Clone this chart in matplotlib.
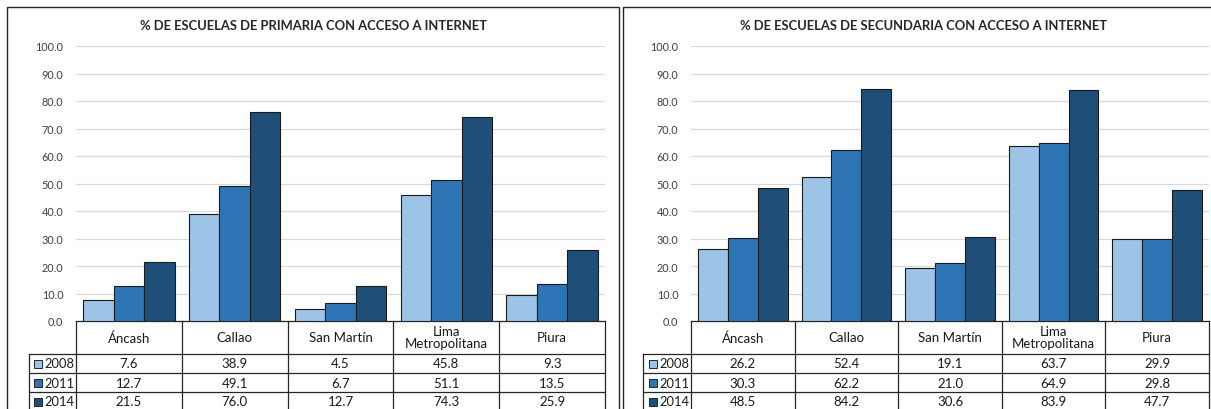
import matplotlib
matplotlib.use("Agg")
import matplotlib.pyplot as plt
from matplotlib.patches import Rectangle
import matplotlib.transforms as mtrans

plt.rcParams['font.family'] = ['Lato', 'DejaVu Sans']

categories = ['Áncash', 'Callao', 'San Martín', 'Lima\nMetropolitana', 'Piura']
years = ['2008', '2011', '2014']
prim_2008 = [7.6, 38.9, 4.5, 45.8, 9.3]
prim_2011 = [12.7, 49.1, 6.7, 51.1, 13.5]
prim_2014 = [21.5, 76.0, 12.7, 74.3, 25.9]
sec_2008 = [26.2, 52.4, 19.1, 63.7, 29.9]
sec_2011 = [30.3, 62.2, 21.0, 64.9, 29.8]
sec_2014 = [48.5, 84.2, 30.6, 83.9, 47.7]
yticks = [0, 10, 20, 30, 40, 50, 60, 70, 80, 90, 100]
titles = ['% DE ESCUELAS DE PRIMARIA CON ACCESO A INTERNET',
          '% DE ESCUELAS DE SECUNDARIA CON ACCESO A INTERNET']

colors = ['#9DC3E6', '#2E75B6', '#1F4E79']
W, H = 1211, 410
fig = plt.figure(figsize=(W / 100, H / 100), dpi=100)


def px_rect(x0, x1, ytop, ybot):
    return [x0 / W, 1 - ybot / H, (x1 - x0) / W, (ybot - ytop) / H]


def panel(series, title, frame, axbox, title_x):
    fx0, fx1 = frame
    fig.add_artist(Rectangle((fx0 / W, -0.05), (fx1 - fx0) / W, 1.05 - 8 / H,
                             transform=fig.transFigure, fill=False,
                             edgecolor='#262626', linewidth=1.0))
    fig.text(title_x / W, 1 - 26 / H, title, ha='center', va='center',
             fontsize=9.4, fontweight='bold', color='#262626')
    ax = fig.add_axes(px_rect(*axbox))
    n = len(categories)
    bw = 0.288
    for k, vals in enumerate(series):
        xs = [i + (k - 1) * bw for i in range(n)]
        ax.bar(xs, vals, width=bw, color=colors[k], edgecolor='#1a1a1a',
               linewidth=0.8, zorder=3)
    ax.set_xlim(-0.5, n - 0.5)
    ax.set_ylim(0, 100)
    ax.set_yticks(yticks)
    ax.set_yticklabels([f'{v:.1f}' for v in yticks], fontsize=7.8, color='#404040')
    ax.tick_params(axis='y', length=0, pad=9)
    ax.set_xticks([])
    ax.grid(axis='y', color='#D9D9D9', linewidth=0.9, zorder=0)
    for s in ax.spines.values():
        s.set_visible(False)

    tr = mtrans.blended_transform_factory(ax.transData, ax.transAxes)
    cw_px = (axbox[1] - axbox[0]) / n
    ax_h = axbox[3] - axbox[2]
    lx = -0.5 - 47.5 / cw_px
    hh = 33 / ax_h
    rh = 19 / ax_h
    lc = '#262626'
    lw = 0.9
    kw = dict(transform=tr, clip_on=False, color=lc, linewidth=lw)
    bottom = -hh - 3 * rh - 0.2
    ax.plot([-0.5, n - 0.5], [0, 0], **kw)
    for r in range(4):
        y = -hh - r * rh
        ax.plot([lx, n - 0.5], [y, y], **kw)
    for i in range(n + 1):
        ax.plot([-0.5 + i, -0.5 + i], [0, bottom], **kw)
    ax.plot([lx, lx], [-hh, bottom], **kw)
    for i, c in enumerate(categories):
        ax.text(i, -hh / 2, c, transform=tr, ha='center', va='center',
                fontsize=9.5, color='#1a1a1a', linespacing=1.0, clip_on=False)
    for k, vals in enumerate(series):
        yc = -hh - (k + 0.5) * rh
        ax.plot([lx + 9 / cw_px], [yc], marker='s', markersize=5.6,
                markerfacecolor=colors[k], markeredgecolor='#262626',
                markeredgewidth=0.7, transform=tr, clip_on=False, linestyle='none')
        ax.text(lx + 15.5 / cw_px, yc, years[k], transform=tr, ha='left',
                va='center', fontsize=9.3, color='#1a1a1a', clip_on=False)
        for i, v in enumerate(vals):
            ax.text(i, yc, f'{v:.1f}', transform=tr, ha='center', va='center',
                    fontsize=9.5, color='#1a1a1a', clip_on=False)
    return ax


panel([prim_2008, prim_2011, prim_2014], titles[0], (7, 619), (76, 605, 47, 322), 313)
panel([sec_2008, sec_2011, sec_2014], titles[1], (623, 1230), (691, 1209, 47, 322), 924)

fig.savefig('out.png', dpi=100)
